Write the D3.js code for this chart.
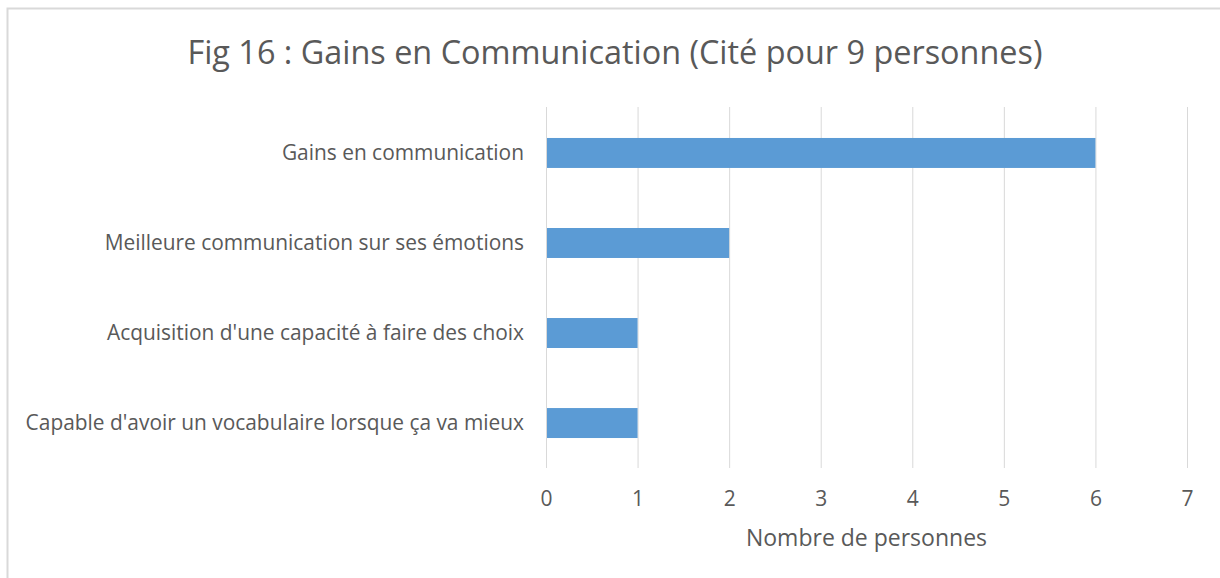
<!DOCTYPE html>
<html>
<head>
<meta charset="utf-8">
<script src="https://cdn.jsdelivr.net/npm/d3@7"></script>
<style>
  body { margin: 0; background: #fff; }
</style>
</head>
<body>
<div id="chart"></div>
<script>
const categories = [
  "Gains en communication",
  "Meilleure communication sur ses émotions",
  "Acquisition d'une capacité à faire des choix",
  "Capable d'avoir un vocabulaire lorsque ça va mieux"
];
const values = [6, 2, 1, 1];
const ticks = [0, 1, 2, 3, 4, 5, 6, 7];

const width = 1220, height = 578;
const margin = {left: 546, right: 33, top: 108, bottom: 110};
const font = "'Open Sans', sans-serif";
const textColor = "#595959";

const svg = d3.select("#chart").append("svg")
  .attr("width", width)
  .attr("height", height)
  .attr("viewBox", [0, 0, width, height]);

// chart frame
svg.append("rect")
  .attr("x", 7.5).attr("y", 8.5)
  .attr("width", width + 10).attr("height", height + 10)
  .attr("fill", "#fff")
  .attr("stroke", "#d9d9d9")
  .attr("stroke-width", 2);

const x = d3.scaleLinear()
  .domain([0, 7])
  .range([margin.left, width - margin.right]);

const y = d3.scaleBand()
  .domain(categories)
  .range([margin.top, height - margin.bottom])
  .paddingInner(0.667)
  .paddingOuter(0.333);

// gridlines
svg.append("g")
  .selectAll("line")
  .data(ticks)
  .join("line")
  .attr("x1", d => x(d) + 0.5)
  .attr("x2", d => x(d) + 0.5)
  .attr("y1", margin.top - 1)
  .attr("y2", height - margin.bottom)
  .attr("stroke", "#d9d9d9")
  .attr("stroke-width", 1);

// bars
svg.append("g")
  .selectAll("rect")
  .data(values)
  .join("rect")
  .attr("x", x(0) + 1)
  .attr("y", (d, i) => y(categories[i]))
  .attr("width", d => x(d) - x(0) - 1)
  .attr("height", y.bandwidth())
  .attr("fill", "#5b9bd5");

// category labels
svg.append("g")
  .selectAll("text")
  .data(categories)
  .join("text")
  .attr("x", margin.left - 22)
  .attr("y", d => y(d) + y.bandwidth() / 2)
  .attr("dy", "0.35em")
  .attr("text-anchor", "end")
  .attr("font-family", font)
  .attr("font-size", 20.9)
  .attr("fill", textColor)
  .text(d => d);

// x axis tick labels
const xAxis = d3.axisBottom(x).tickValues(ticks).tickFormat(d3.format("d")).tickSize(0).tickPadding(0);
const gx = svg.append("g")
  .attr("transform", `translate(0, ${height - margin.bottom + 23})`)
  .call(xAxis);
gx.select(".domain").remove();
gx.selectAll("text")
  .attr("font-family", font)
  .attr("font-size", 21)
  .attr("fill", textColor);

// axis title
svg.append("text")
  .attr("x", (x(0) + x(7)) / 2)
  .attr("y", 546)
  .attr("text-anchor", "middle")
  .attr("font-family", font)
  .attr("font-size", 23)
  .attr("fill", textColor)
  .text("Nombre de personnes");

// title
svg.append("text")
  .attr("x", 615)
  .attr("y", 64)
  .attr("text-anchor", "middle")
  .attr("font-family", font)
  .attr("font-size", 32.4)
  .attr("fill", textColor)
  .text("Fig 16 : Gains en Communication (Cité pour 9 personnes)");
</script>
</body>
</html>
